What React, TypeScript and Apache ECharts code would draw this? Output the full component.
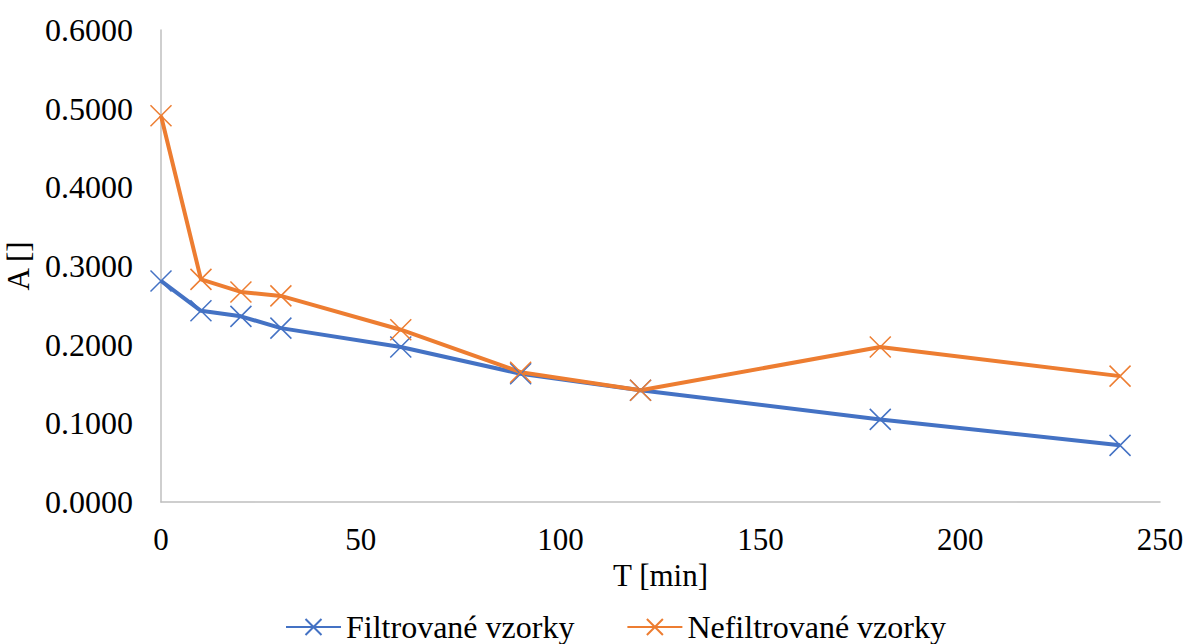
import React, { useEffect, useRef } from "react";
import * as echarts from "echarts";

const times = [0, 10, 20, 30, 60, 90, 120, 180, 240];
const filtrovane = [0.281, 0.243, 0.236, 0.221, 0.197, 0.163, 0.142, 0.105, 0.072];
const nefiltrovane = [0.491, 0.283, 0.267, 0.262, 0.219, 0.165, 0.142, 0.197, 0.160];
const seriesNames = ["Filtrované vzorky", "Nefiltrované vzorky"];
const colors = ["#4472C4", "#ED7D31"];

const crossSymbol = "path://M0,0L20,20M20,0L0,20";
const font = "Times New Roman";

export default function App() {
  const ref = useRef<HTMLDivElement>(null);
  useEffect(() => {
    if (!ref.current) return;
    const chart = echarts.init(ref.current, undefined, { renderer: "svg" });
    const mk = (name: string, vals: number[], color: string) => ({
      name,
      type: "line",
      data: times.map((t, i) => [t, vals[i]]),
      symbol: crossSymbol,
      symbolSize: 21,
      lineStyle: { color, width: 4 },
      itemStyle: { color, borderColor: color, borderWidth: 1.5 },
      emphasis: { disabled: true },
    });
    chart.setOption({
      animation: false,
      textStyle: { fontFamily: font },
      grid: {
        left: 161,
        right: 25,
        top: 30,
        bottom: 142,
        containLabel: false,
        outerBoundsMode: "none",
      },
      xAxis: {
        type: "value",
        min: 0,
        max: 250,
        interval: 50,
        name: "T [min]",
        nameLocation: "middle",
        nameGap: 53,
        nameTextStyle: { fontSize: 31, color: "#000", fontFamily: font },
        axisLine: { show: true, lineStyle: { color: "#bfbfbf", width: 1.5 } },
        axisTick: { show: false },
        splitLine: { show: false },
        axisLabel: { fontSize: 31, color: "#000", margin: 22, fontFamily: font },
      },
      yAxis: {
        type: "value",
        min: 0,
        max: 0.6,
        interval: 0.1,
        name: "A []",
        nameLocation: "middle",
        nameGap: 122,
        nameTextStyle: { fontSize: 31, color: "#000", fontFamily: font },
        axisLine: { show: true, lineStyle: { color: "#bfbfbf", width: 1.5 } },
        axisTick: { show: false },
        splitLine: { show: false },
        axisLabel: {
          fontSize: 32,
          color: "#000",
          margin: 28,
          fontFamily: font,
          formatter: (v: number) => v.toFixed(4),
        },
      },
      legend: {
        top: 606,
        left: 280,
        itemGap: 52,
        itemWidth: 55,
        itemHeight: 20,
        textStyle: { fontSize: 32, color: "#000", fontFamily: font },
        data: seriesNames,
      },
      series: [
        mk(seriesNames[0], filtrovane, colors[0]),
        mk(seriesNames[1], nefiltrovane, colors[1]),
      ],
    });
    return () => chart.dispose();
  }, []);
  return (
    <div
      ref={ref}
      style={{ position: "absolute", left: 0, top: 0, width: 1185, height: 644, overflow: "hidden" }}
    />
  );
}
